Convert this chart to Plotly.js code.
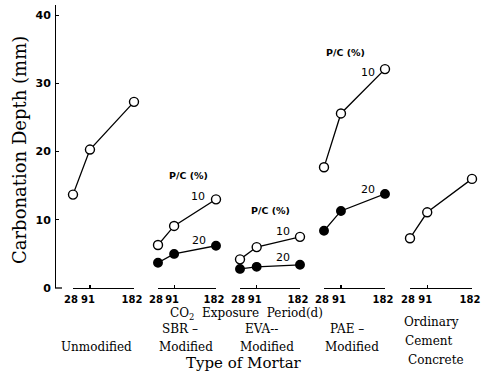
<!DOCTYPE html>
<html>
<head>
<meta charset="utf-8">
<script src="https://cdn.plot.ly/plotly-3.0.1.min.js"></script>
<style>html,body{margin:0;padding:0;background:#fff;}#chart{width:488px;height:376px;}</style>
</head>
<body>
<div id="chart"></div>
<script>
// ---- data ----
const days = [28, 91, 182];
const dayLabels = ["28", "91", "182"];
const groups = ["Unmodified", "SBR-Modified", "EVA-Modified", "PAE-Modified", "Ordinary Cement Concrete"];
const unmodified = [13.7, 20.3, 27.3];
const sbr10 = [6.3, 9.1, 13.0];
const sbr20 = [3.7, 5.0, 6.2];
const eva10 = [4.2, 6.0, 7.5];
const eva20 = [2.8, 3.1, 3.4];
const pae10 = [17.7, 25.6, 32.1];
const pae20 = [8.4, 11.3, 13.8];
const ordinary = [7.3, 11.1, 16.0];
const yTicks = [0, 10, 20, 30, 40];

// ---- scale for exposure period inside each group (non-linear day axis) ----
const POW = 1.7;
const dayScale = d => Math.pow(d, POW);
const xv = days.map(dayScale);

// ---- layout geometry (pixels) ----
const W = 488, H = 376;
const L = 55, R = 480, T = 5, B = 288;
const fx = p => (p - L) / (R - L);
const fy = p => (B - p) / (B - T);
const groupPx = [[73, 134], [158, 216], [240, 300], [324, 385], [410, 472]];

const serif = "DejaVu Serif, Liberation Serif, serif";
const sans = "DejaVu Sans, Liberation Sans, sans-serif";

function line(y, axis, filled) {
  return {
    x: xv, y: y, xaxis: axis, yaxis: 'y', type: 'scatter', mode: 'lines+markers',
    cliponaxis: false, showlegend: false, hoverinfo: 'skip',
    line: {color: '#000', width: 1.3},
    marker: {symbol: 'circle', size: filled ? 8.5 : 9, color: filled ? '#000' : '#fff',
             line: {color: '#000', width: 1.4}}
  };
}

const data = [
  line(unmodified, 'x', false),
  line(sbr10, 'x2', false), line(sbr20, 'x2', true),
  line(eva10, 'x3', false), line(eva20, 'x3', true),
  line(pae10, 'x4', false), line(pae20, 'x4', true),
  line(ordinary, 'x5', false)
];

const layout = {
  width: W, height: H,
  margin: {l: L, r: W - R, t: T, b: H - B, pad: 0},
  paper_bgcolor: '#fff', plot_bgcolor: 'rgba(0,0,0,0)',
  showlegend: false,
  yaxis: {
    range: [0, 41.5], anchor: 'free', position: 0,
    showline: true, linecolor: '#000', linewidth: 1.3,
    showgrid: false, zeroline: false,
    ticks: 'inside', ticklen: 3, tickcolor: '#000', tickwidth: 1.3,
    tickvals: yTicks, ticktext: yTicks.map(String),
    tickfont: {family: sans, size: 11, color: '#000', weight: 'bold'},
    ticklabelstandoff: 2
  },
  shapes: [
    {type: 'line', xref: 'paper', yref: 'paper', x0: 0, x1: fx(62), y0: 0, y1: 0,
     line: {color: '#000', width: 1.3}}
  ],
  annotations: []
};

groupPx.forEach((g, i) => {
  const key = i === 0 ? 'xaxis' : 'xaxis' + (i + 1);
  layout[key] = {
    domain: [fx(g[0]), fx(g[1])], anchor: 'y',
    range: [xv[0], xv[2]],
    showline: true, linecolor: '#000', linewidth: 1.2,
    showgrid: false, zeroline: false,
    ticks: 'inside', ticklen: 3, tickcolor: '#000', tickwidth: 1.2,
    tickvals: xv, ticktext: dayLabels,
    tickfont: {family: sans, size: 10, color: '#000', weight: 'bold'},
    ticklabelshift: -2, ticklabelstandoff: 2
  };
});

function ann(text, px, py, font, extra) {
  layout.annotations.push(Object.assign({
    text: text, xref: 'paper', yref: 'paper', x: fx(px), y: fy(py),
    xanchor: 'center', yanchor: 'middle', showarrow: false, font: font
  }, extra || {}));
}

const titleFont = {family: serif, size: 18, color: '#000'};
const xTitleFont = {family: serif, size: 15, color: '#000'};
const labFont = {family: serif, size: 12, color: '#000'};
const pcFont = {family: sans, size: 9.5, color: '#000', weight: 'bold'};
const numFont = {family: sans, size: 11, color: '#000'};

// axis titles
ann('Carbonation Depth (mm)', 19, 150, titleFont, {textangle: -90});
ann('Type of Mortar', 244, 363, xTitleFont);
ann('CO<sub>2</sub>  Exposure  Period(d)', 246, 314, labFont);

// group labels
ann('Unmodified', 96, 347, labFont);
ann('SBR \u2013', 180, 329, labFont);
ann('Modified', 186, 347, labFont);
ann('EVA--', 261, 329, labFont);
ann('Modified', 267, 347, labFont);
ann('PAE \u2013', 347, 329, labFont);
ann('Modified', 352, 347, labFont);
ann('Ordinary', 431, 322, labFont);
ann('Cement', 428, 341, labFont);
ann('Concrete', 436, 360, labFont);

// P/C labels
ann('P/C (%)', 188, 175, pcFont);
ann('10', 198, 197, numFont);
ann('20', 199, 240, numFont);
ann('P/C (%)', 270, 210, pcFont);
ann('10', 283, 231, numFont);
ann('20', 283, 257, numFont);
ann('P/C (%)', 345, 53, pcFont);
ann('10', 368, 72, numFont);
ann('20', 368, 189, numFont);

Plotly.newPlot('chart', data, layout, {staticPlot: true, displayModeBar: false});
</script>
</body>
</html>
